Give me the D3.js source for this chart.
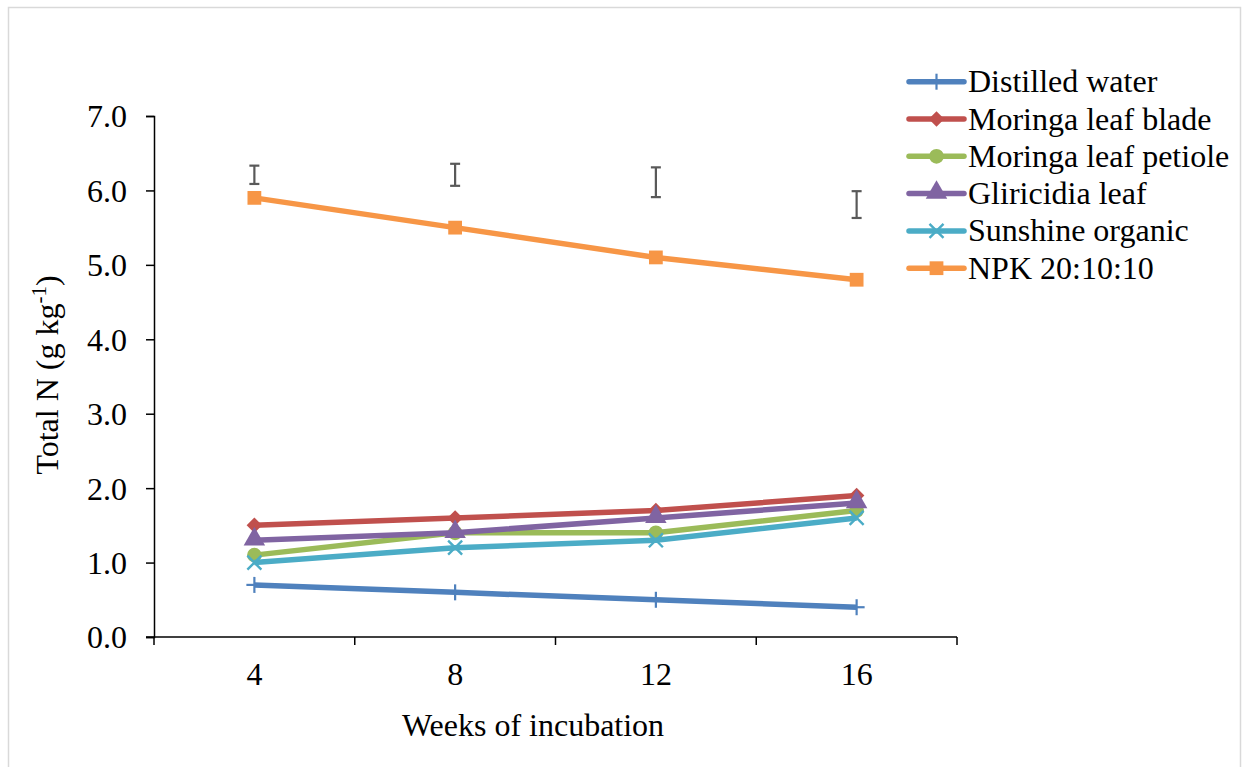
<!DOCTYPE html>
<html>
<head>
<meta charset="utf-8">
<script src="https://cdn.jsdelivr.net/npm/d3@7"></script>
<style>
  body { margin: 0; background: #fff; }
  text { font-family: "Liberation Serif", "Times New Roman", serif; fill: #000; }
</style>
</head>
<body>
<svg id="canvas"></svg>
<script>
var w = 1249
var h = 767

// ########## Data ##########
var weeks = ["4", "8", "12", "16"];
var seriesNames = ["Distilled water", "Moringa leaf blade", "Moringa leaf petiole",
    "Gliricidia leaf", "Sunshine organic", "NPK 20:10:10"];
var distilled = [0.7, 0.6, 0.5, 0.4];
var blade = [1.5, 1.6, 1.7, 1.9];
var petiole = [1.1, 1.4, 1.4, 1.7];
var gliricidia = [1.3, 1.4, 1.6, 1.8];
var sunshine = [1.0, 1.2, 1.3, 1.6];
var npk = [5.9, 5.5, 5.1, 4.8];
// floating error bars above the lines (centre, half length)
var errCentre = [6.21, 6.21, 6.11, 5.81];
var errHalf = [0.123, 0.148, 0.2, 0.18];
var yTicks = [0, 1, 2, 3, 4, 5, 6, 7];

var colors = ["#4F81BD", "#C0504D", "#9BBB59", "#8064A2", "#4BACC6", "#F79646"];
var symbols = ["plus", "diamond", "circle", "triangle", "cross", "square"];
var allValues = [distilled, blade, petiole, gliricidia, sunshine, npk];

var series = seriesNames.map(function (n, i) {
    return { name: n, values: allValues[i], color: colors[i], symbol: symbols[i] };
});

// ########## SVG ##########
var svg = d3.select("#canvas")
    .attr("width", w)
    .attr("height", h);

svg.append("rect")
    .attr("x", 8.5).attr("y", 7.5)
    .attr("width", 1232).attr("height", 780)
    .attr("fill", "#fff")
    .attr("stroke", "#d9d9d9")
    .attr("stroke-width", 1.5);

// ########## Scales ##########
var x = d3.scaleBand().domain(weeks).range([154, 957]).padding(0);
var y = d3.scaleLinear().domain([0, 7]).range([637, 116]);
function cx(d) { return x(d) + x.bandwidth() / 2; }

// ########## Axes ##########
var yAxis = svg.append("g")
    .attr("transform", "translate(154,0)")
    .call(d3.axisLeft(y).tickValues(yTicks).tickSize(8).tickPadding(19)
        .tickFormat(d3.format(".1f")));
yAxis.select(".domain").attr("stroke", "#000").attr("stroke-width", 1.5);
yAxis.selectAll(".tick line").attr("stroke", "#000").attr("stroke-width", 1.5);
yAxis.selectAll(".tick text")
    .attr("font-size", 32)
    .attr("font-family", "Liberation Serif")
    .attr("fill", "#000")
    .attr("dy", "0.34em");

var xAxisG = svg.append("g").attr("transform", "translate(0,637)");
xAxisG.append("line")
    .attr("x1", 146).attr("x2", 957)
    .attr("stroke", "#000").attr("stroke-width", 1.5);
var bounds = weeks.map(function (d) { return x(d); }).concat([957]);
xAxisG.selectAll(".xt")
    .data(bounds).enter()
    .append("line")
    .attr("x1", function (d) { return d; })
    .attr("x2", function (d) { return d; })
    .attr("y1", 0).attr("y2", 8)
    .attr("stroke", "#000").attr("stroke-width", 1.5);
xAxisG.selectAll(".xl")
    .data(weeks).enter()
    .append("text")
    .attr("x", function (d) { return cx(d); })
    .attr("y", 48)
    .attr("text-anchor", "middle")
    .attr("font-size", 32)
    .text(function (d) { return d; });

// ########## Titles ##########
svg.append("text")
    .attr("x", 533).attr("y", 736)
    .attr("text-anchor", "middle")
    .attr("font-size", 32)
    .text("Weeks of incubation");

var yt = svg.append("text")
    .attr("transform", "translate(58,375) rotate(-90)")
    .attr("text-anchor", "middle")
    .attr("font-size", 32);
yt.append("tspan").text("Total N (g kg");
yt.append("tspan").attr("font-size", 21).attr("dy", -12).text("-1");
yt.append("tspan").attr("dy", 12).text(")");

// ########## Error bars ##########
var eb = svg.selectAll(".err")
    .data(weeks).enter()
    .append("g")
    .attr("class", "err")
    .attr("stroke", "#595959")
    .attr("stroke-width", 2.2);
eb.append("line")
    .attr("x1", function (d) { return cx(d); })
    .attr("x2", function (d) { return cx(d); })
    .attr("y1", function (d, i) { return y(errCentre[i] + errHalf[i]); })
    .attr("y2", function (d, i) { return y(errCentre[i] - errHalf[i]); });
eb.append("line")
    .attr("x1", function (d) { return cx(d) - 5; })
    .attr("x2", function (d) { return cx(d) + 5; })
    .attr("y1", function (d, i) { return y(errCentre[i] + errHalf[i]); })
    .attr("y2", function (d, i) { return y(errCentre[i] + errHalf[i]); });
eb.append("line")
    .attr("x1", function (d) { return cx(d) - 5; })
    .attr("x2", function (d) { return cx(d) + 5; })
    .attr("y1", function (d, i) { return y(errCentre[i] - errHalf[i]); })
    .attr("y2", function (d, i) { return y(errCentre[i] - errHalf[i]); });

// ########## Markers ##########
function drawMarker(g, sym, color, px, py) {
    if (sym === "plus") {
        g.append("line").attr("x1", px).attr("x2", px).attr("y1", py - 8).attr("y2", py + 8)
            .attr("stroke", color).attr("stroke-width", 2.2);
        g.append("line").attr("x1", px - 8).attr("x2", px + 8).attr("y1", py).attr("y2", py)
            .attr("stroke", color).attr("stroke-width", 2.2);
    } else if (sym === "cross") {
        g.append("path").attr("d", "M" + (px - 7) + "," + (py - 7) + "L" + (px + 7) + "," + (py + 7) +
            "M" + (px + 7) + "," + (py - 7) + "L" + (px - 7) + "," + (py + 7))
            .attr("stroke", color).attr("stroke-width", 2.4);
    } else if (sym === "diamond") {
        // square turned 45 degrees, like the Excel diamond
        g.append("path")
            .attr("d", d3.symbol().type(d3.symbolSquare).size(120)())
            .attr("transform", "translate(" + px + "," + py + ") rotate(45)")
            .attr("fill", color);
    } else {
        var t = { circle: d3.symbolCircle, triangle: d3.symbolTriangle, square: d3.symbolSquare }[sym];
        var size = { circle: 170, triangle: 200, square: 190 }[sym];
        g.append("path")
            .attr("d", d3.symbol().type(t).size(size)())
            .attr("transform", "translate(" + px + "," + (sym === "triangle" ? py - 1 : py) + ")")
            .attr("fill", color);
    }
}

// ########## Lines ##########
var line = d3.line()
    .x(function (d, i) { return cx(weeks[i]); })
    .y(function (d) { return y(d); });

series.forEach(function (s) {
    var g = svg.append("g");
    g.append("path")
        .attr("d", line(s.values))
        .attr("fill", "none")
        .attr("stroke", s.color)
        .attr("stroke-width", 5.5)
        .attr("stroke-linejoin", "round");
    s.values.forEach(function (v, i) {
        drawMarker(g, s.symbol, s.color, cx(weeks[i]), y(v));
    });
});

// ########## Legend ##########
var legend = svg.selectAll(".legend")
    .data(series).enter()
    .append("g")
    .attr("class", "legend")
    .attr("transform", function (d, i) { return "translate(0," + (81.7 + i * 37.3) + ")"; });
legend.each(function (d) {
    var g = d3.select(this);
    g.append("line").attr("x1", 909).attr("x2", 964).attr("y1", 0).attr("y2", 0)
        .attr("stroke", d.color).attr("stroke-width", 5.5).attr("stroke-linecap", "round");
    drawMarker(g, d.symbol, d.color, 936.5, 0);
});
legend.append("text")
    .attr("x", 968)
    .attr("y", 0)
    .attr("dy", "0.33em")
    .attr("font-size", 32)
    .text(function (d) { return d.name; });
</script>
</body>
</html>
